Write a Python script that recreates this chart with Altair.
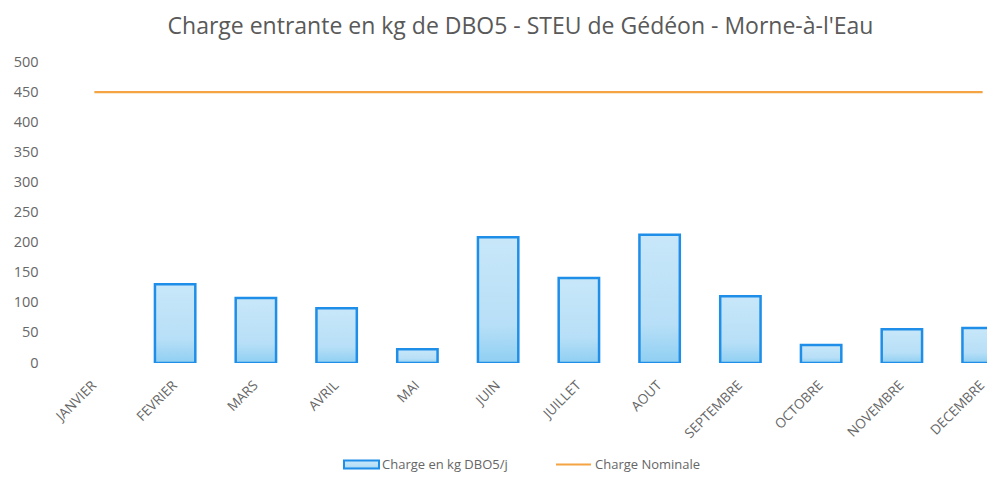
import altair as alt
import pandas as pd

mois = ["JANVIER", "FEVRIER", "MARS", "AVRIL", "MAI", "JUIN", "JUILLET",
        "AOUT", "SEPTEMBRE", "OCTOBRE", "NOVEMBRE", "DECEMBRE"]
charge = [None, 131, 108, 91, 23, 209, 141, 213, 111, 30, 56, 58]
nominale = [450, 450, 450, 450, 450, 450, 450, 450, 450, 450, 450, 450]
y_ticks = [0, 50, 100, 150, 200, 250, 300, 350, 400, 450, 500]
serie_charge = "Charge  en kg DBO5/j"
serie_nominale = "Charge Nominale"
titre = "Charge entrante  en kg de DBO5 - STEU de Gédéon - Morne-à-l'Eau"

df = pd.DataFrame({"mois": mois, "charge": charge, "nominale": nominale})
df["serie_c"] = serie_charge
df["serie_n"] = serie_nominale

FONT = "Open Sans"
GREY = "#666666"

x = alt.X(
    "mois:N", sort=mois,
    scale=alt.Scale(range=[0, 969], paddingInner=0.5, paddingOuter=0.25),
    axis=alt.Axis(title=None, labelAngle=-45, domain=False, ticks=False,
                  labelPadding=15, labelOffset=-5, labelFontSize=13.5,
                  labelColor=GREY, labelFont=FONT),
)
yscale = alt.Scale(domain=[0, 500])
yaxis = alt.Axis(values=y_ticks, title=None, grid=False, domain=False,
                 ticks=False, labelPadding=16, labelFontSize=14.5,
                 labelColor=GREY, labelFont=FONT)

grad = alt.Gradient(
    gradient="linear",
    stops=[alt.GradientStop(color="#C8E7F9", offset=0),
           alt.GradientStop(color="#B7DFF7", offset=0.7),
           alt.GradientStop(color="#8FCFF2", offset=1)],
    x1=0, x2=0, y1=0, y2=1,
)

bars = alt.Chart().mark_bar(fill=grad, strokeWidth=2.5, clip=True).encode(
    x=x,
    y=alt.Y("charge:Q", scale=yscale, axis=yaxis),
    stroke=alt.Stroke(
        "serie_c:N",
        scale=alt.Scale(range=["#1E8EE8"]),
        legend=alt.Legend(
            title=None, orient="none", legendX=289, legendY=384,
            symbolType="M-1,-0.23H1V0.23H-1Z", symbolSize=1225,
            symbolFillColor="#BDE2F7", symbolStrokeWidth=2,
            labelFont=FONT, labelFontSize=13, labelColor=GREY,
            labelOffset=2, padding=0,
        ),
    ),
)

line = alt.Chart().mark_line(strokeWidth=2.2).encode(
    x=x,
    y=alt.Y("nominale:Q", scale=yscale, axis=yaxis),
    color=alt.Color(
        "serie_n:N",
        scale=alt.Scale(range=["#F4A442"]),
        legend=alt.Legend(
            title=None, orient="none", legendX=501, legendY=384,
            symbolType="stroke", symbolSize=1225, symbolStrokeWidth=2,
            labelFont=FONT, labelFontSize=13, labelColor=GREY,
            labelOffset=3, padding=0,
        ),
    ),
)

chart = alt.layer(bars, line, data=df).properties(
    width=933,
    height=301,
    title=alt.TitleParams(titre, font=FONT, fontSize=23, fontWeight="normal",
                          color="#595959", offset=15, anchor="middle"),
    autosize=alt.AutoSizeParams(type="none"),
    padding={"left": 46, "top": 54, "right": 0, "bottom": 110},
).configure_view(stroke=None).resolve_scale(stroke="independent", color="independent")

chart.save("out.html", embed_options={"renderer": "svg", "actions": False})
